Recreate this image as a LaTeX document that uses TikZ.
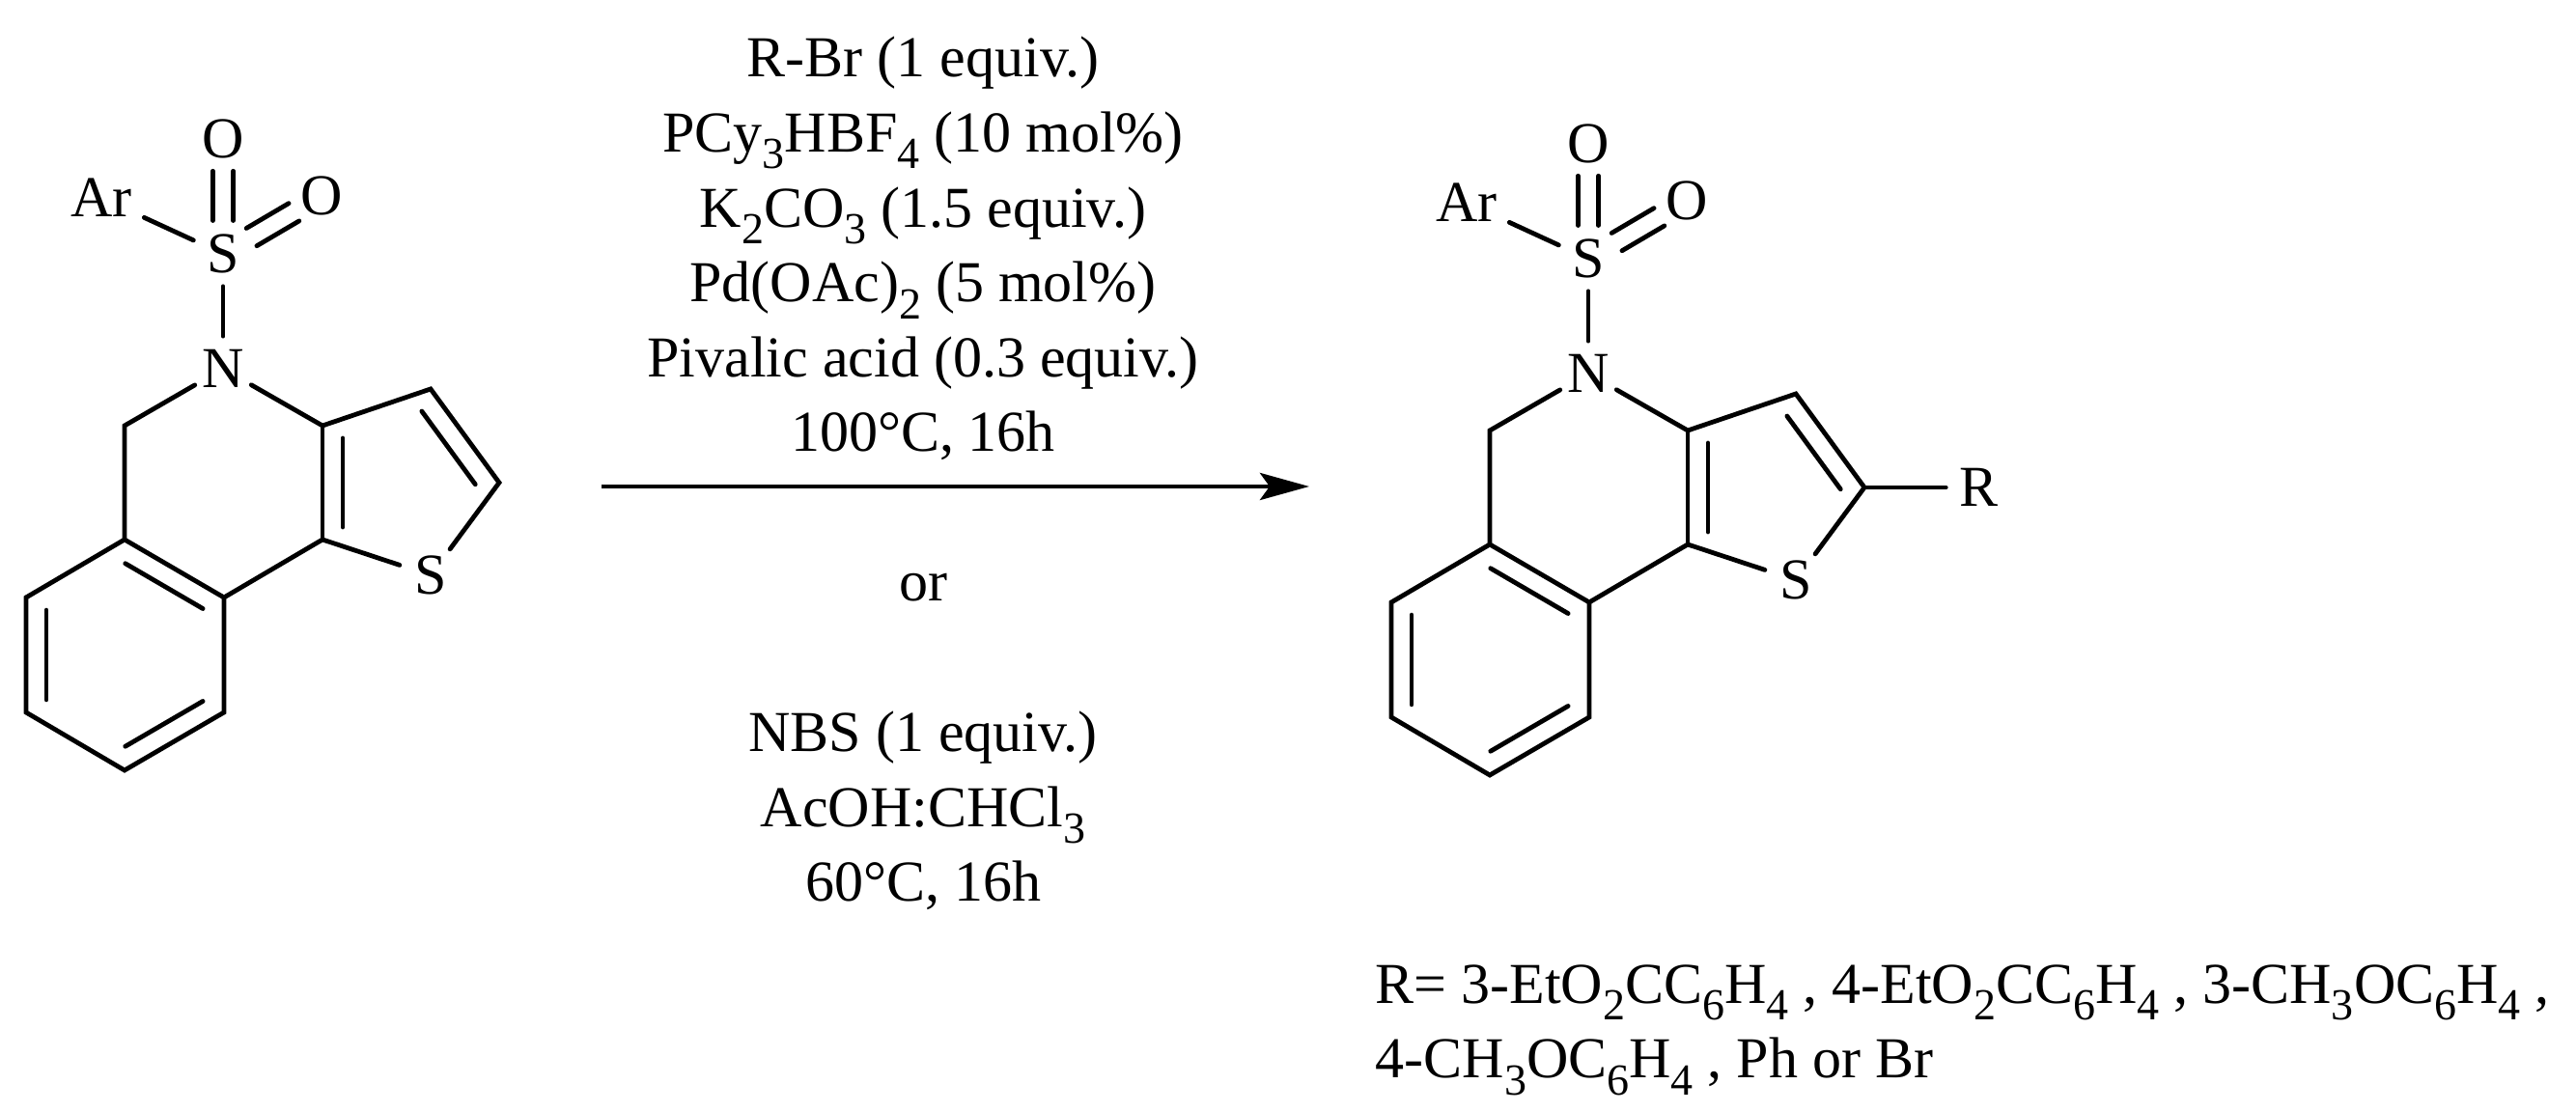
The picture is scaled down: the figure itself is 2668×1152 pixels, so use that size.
\documentclass[tikz,border=0pt]{standalone}
\usepackage{fontspec}
\setmainfont{Liberation Serif}
\usetikzlibrary{arrows.meta,calc,positioning}
\tikzset{bond/.style={line width=1.2pt,line cap=round,line join=miter}}
\tikzstyle{atom}=[circle, inner sep=0pt, minimum size=16.5pt, font=\chemfont]
\tikzstyle{cond}=[align=center, anchor=base, inner sep=0pt, font=\chemfont]
\newcommand{\chemfont}{\fontsize{15}{19.4}\selectfont}
\newcommand{\lo}[1]{\raisebox{-.29em}{\fontsize{11.5}{11.5}\selectfont #1}}
\newcommand{\innerbond}[2]{\draw[bond] ($(#1)!.11!(#2)!5.25pt!90:(#2)$) -- ($(#2)!.11!(#1)!5.25pt!-90:(#1)$);}
\newcommand{\oxobond}[2]{
  \draw[bond] ($(#1)!.29!(#2)!2.65pt!90:(#2)$) -- ($(#2)!.28!(#1)!2.65pt!-90:(#1)$);
  \draw[bond] ($(#1)!.29!(#2)!2.65pt!-90:(#2)$) -- ($(#2)!.28!(#1)!2.65pt!90:(#1)$);}

\begin{document}
\begin{tikzpicture}[x=.25pt, y=-.25pt]
\useasboundingbox (0,0) rectangle (2668,1152);
\foreach \mol/\dx/\dy in {a/0/0, b/1414/5}{
\begin{scope}[shift={(\dx,\dy)}, name prefix=\mol-]
\coordinate (Ba) at (129,559);
\coordinate (Bb) at (232,619);
\coordinate (Bc) at (232,738);
\coordinate (Bd) at (129,798);
\coordinate (Be) at (27,738);
\coordinate (Bf) at (27,619);
\coordinate (Cm) at (129,441);
\coordinate (Ta) at (334,441);
\coordinate (Tb) at (334,559);
\coordinate (Tc) at (446,403);
\coordinate (Td) at (517,500);
\node[atom] (N) at (231,382) {N};
\node[atom] (St) at (446,596) {S};
\node[atom] (Ss) at (231,263) {S};
\node[atom] (Ot) at (231,144) {O};
\node[atom] (Or) at (333,203) {O};
\node[atom, minimum size=24pt] (Ar) at (105,205) {Ar};
\draw[bond] (Ba) -- (Bb) -- (Bc) -- (Bd) -- (Be) -- (Bf) -- cycle;
\draw[bond] (Ba) -- (Cm) -- (N);
\draw[bond] (N) -- (Ta) -- (Tc) -- (Td) -- (St);
\draw[bond] (St) -- (Tb) -- (Bb);
\draw[bond] (Ta) -- (Tb);
\draw[bond] (N) -- (Ss);
\draw[bond] (Ss) -- (Ar);
\innerbond{Bb}{Ba}
\innerbond{Bf}{Be}
\innerbond{Bd}{Bc}
\innerbond{Ta}{Tb}
\innerbond{Td}{Tc}
\oxobond{Ss}{Ot}
\oxobond{Ss}{Or}
\end{scope}
}
\node[atom] (R) at (2049,505) {R};
\draw[bond] (b-Td) -- (R);
\coordinate (ArrowA) at (623,504);
\coordinate (ArrowB) at (1356,504);
\draw[line width=1.2pt, -{Stealth[length=12.75pt,width=7pt,inset=2.5pt]}] (ArrowA) -- (ArrowB);
\node[cond] (CondA) at (956,468) {R-Br (1 equiv.)\\PCy\lo{3}HBF\lo{4} (10 mol\%)\\K\lo{2}CO\lo{3} (1.5 equiv.)\\Pd(OAc)\lo{2} (5 mol\%)\\Pivalic acid (0.3 equiv.)\\100°C, 16h};
\node[cond] (CondOr) at (956,623) {or};
\node[cond] (CondB) at (956,934) {NBS (1 equiv.)\\AcOH:CHCl\lo{3}\\60°C, 16h};
\node[cond, align=left, anchor=base west] (Rlist) at (1424,1117) {R= 3-EtO\lo{2}CC\lo{6}H\lo{4} , 4-EtO\lo{2}CC\lo{6}H\lo{4} , 3-CH\lo{3}OC\lo{6}H\lo{4} ,\\4-CH\lo{3}OC\lo{6}H\lo{4} , Ph or Br};
\end{tikzpicture}
\end{document}
